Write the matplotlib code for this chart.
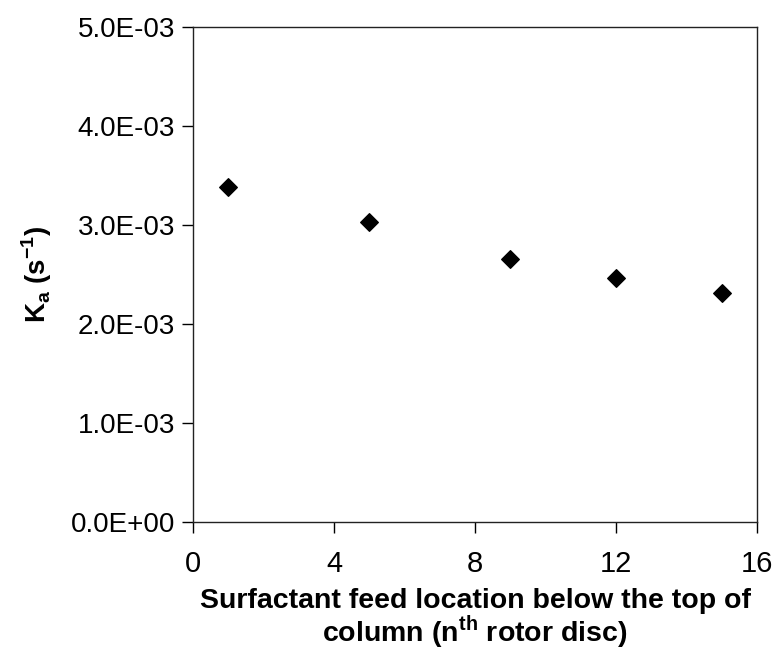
import numpy as np
from matplotlib import pyplot as plt
from matplotlib.ticker import FuncFormatter

plt.rcParams['font.family'] = ['Liberation Sans', 'DejaVu Sans']

# surfactant feed location (rotor disc number) and Ka values
feed_location = [1, 5, 9, 12, 15]
ka_values = [3.38e-3, 3.03e-3, 2.66e-3, 2.46e-3, 2.31e-3]

x_ticks = [0, 4, 8, 12, 16]
y_ticks = [0.0, 1.0e-3, 2.0e-3, 3.0e-3, 4.0e-3, 5.0e-3]


def sci_label(v, pos):
    """Excel style 0.0E+00 labels. """
    return "{:.1E}".format(v)


fig = plt.figure(figsize=(7.74, 6.53), dpi=100)
ax = fig.add_axes([193 / 774, 1 - 522 / 653, (757 - 193) / 774, (522 - 27) / 653])

ax.scatter(feed_location, ka_values, marker='D', s=80, color='black', zorder=3)

ax.set_xlim(0, 16)
ax.set_ylim(0, 5.0e-3)
ax.set_xticks(x_ticks)
ax.set_yticks(y_ticks)
ax.yaxis.set_major_formatter(FuncFormatter(sci_label))
ax.tick_params(direction='out', length=8, width=1, labelsize=20, colors='black', pad=5)
ax.tick_params(axis='x', pad=12, labelsize=21)

for spine in ax.spines.values():
    spine.set_linewidth(1)
    spine.set_color('#222222')

ax.set_xlabel("Surfactant feed location below the top of\ncolumn (n$^{\\mathregular{th}}$ rotor disc)",
              fontsize=20.5, fontweight='bold', labelpad=7, linespacing=1.0)
ax.set_ylabel("K$_{\\mathregular{a}}$ (s$^{\\mathregular{-1}}$)", fontsize=20, fontweight='bold', labelpad=12)

fig.savefig("out.png", dpi=100)
